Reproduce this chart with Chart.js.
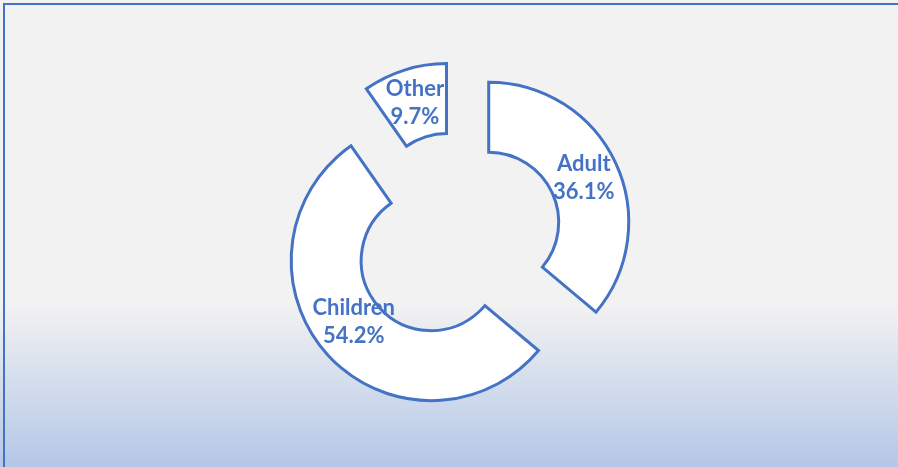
<!DOCTYPE html>
<html>
<head>
<meta charset="utf-8">
<script src="https://cdn.jsdelivr.net/npm/chart.js@4/dist/chart.umd.min.js"></script>
<style>
  html, body { margin: 0; padding: 0; }
  body {
    width: 898px; height: 467px; overflow: hidden; position: relative;
    background: linear-gradient(to bottom, #f2f2f2 0%, #f2f2f2 65%, #b4c7e7 100%);
  }
  .frame {
    position: absolute; left: 3px; top: 3px; width: 1000px; height: 600px;
    border-left: 2px solid #4472c4; border-top: 2px solid #4472c4;
  }
  #wrap { position: absolute; left: 0; top: 0; width: 898px; height: 467px; }
</style>
</head>
<body>
<div class="frame"></div>
<div id="wrap"><canvas id="donut"></canvas></div>
<script>
const categories = ['Adult', 'Children', 'Other'];
const shares = [36.1, 54.2, 9.7];

const blue = '#4472c4';
const explode = 35; // px each segment is pushed out along its middle angle
const labelNudgeY = [0, -10, -1]; // small per-label vertical tweaks

function midAngle(arc) {
  const p = arc.getProps(['startAngle', 'endAngle']);
  return (p.startAngle + p.endAngle) / 2;
}

// pulls every segment away from the centre without changing its radii
const explodeSlices = {
  id: 'explodeSlices',
  beforeDatasetDraw(chart, args) {
    const ctx = chart.ctx;
    args.meta.data.forEach(arc => {
      const mid = midAngle(arc);
      ctx.save();
      ctx.translate(Math.cos(mid) * explode, Math.sin(mid) * explode);
      arc.draw(ctx, chart.chartArea);
      ctx.restore();
    });
    return false;
  }
};

// draws "name / value%" at the middle of each segment
const sliceLabels = {
  id: 'sliceLabels',
  afterDatasetsDraw(chart) {
    const ctx = chart.ctx;
    const meta = chart.getDatasetMeta(0);
    ctx.save();
    ctx.fillStyle = blue;
    ctx.font = 'bold 22px Lato, "Open Sans", sans-serif';
    ctx.textAlign = 'center';
    ctx.textBaseline = 'middle';
    meta.data.forEach((arc, i) => {
      const p = arc.getProps(['x', 'y', 'innerRadius', 'outerRadius']);
      const mid = midAngle(arc);
      const r = (p.innerRadius + p.outerRadius) / 2 + explode;
      const x = p.x + Math.cos(mid) * r;
      const y = p.y + Math.sin(mid) * r + labelNudgeY[i];
      ctx.fillText(categories[i], x, y - 14);
      ctx.fillText(shares[i].toFixed(1) + '%', x, y + 14);
    });
    ctx.restore();
  }
};

new Chart(document.getElementById('donut'), {
  type: 'doughnut',
  data: {
    labels: categories,
    datasets: [{
      data: shares,
      backgroundColor: '#ffffff',
      borderColor: blue,
      borderWidth: 3,
      borderJoinStyle: 'miter',
      hoverOffset: 0
    }]
  },
  options: {
    responsive: true,
    maintainAspectRatio: false,
    animation: false,
    radius: 140,
    cutout: '50%',
    layout: { padding: { left: 16, top: 7 } },
    events: [],
    plugins: { legend: { display: false }, tooltip: { enabled: false } }
  },
  plugins: [explodeSlices, sliceLabels]
});
</script>
</body>
</html>
